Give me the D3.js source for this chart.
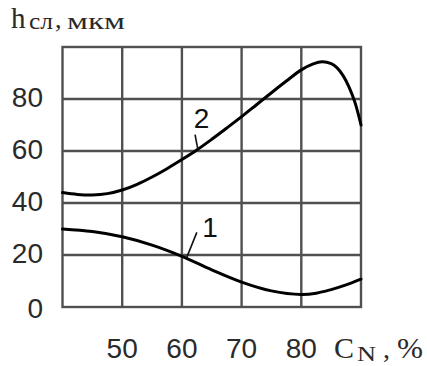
<!DOCTYPE html>
<html>
<head>
<meta charset="utf-8">
<script src="https://cdn.jsdelivr.net/npm/d3@7"></script>
<style>
  html, body { margin: 0; padding: 0; background: #fff; }
  svg { display: block; }
</style>
</head>
<body>
<svg id="chart" width="427" height="366"></svg>
<script>
// Concentration C_N, %
const xTicks = [50, 60, 70, 80];
const yTicks = [0, 20, 40, 60, 80];

// Curve 1: h_сл vs C_N
const curve1X = [40, 45, 50, 55, 60, 65, 70, 75, 80, 82.5, 85, 87.5, 90];
const curve1Y = [30, 29, 27, 23.8, 19.5, 14.3, 9.6, 6.2, 4.8, 5.3, 6.7, 8.5, 10.7];

// Curve 2: h_сл vs C_N
const curve2X = [40, 42.5, 45, 47.5, 50, 52.5, 55, 57.5, 60, 62.5, 65, 67.5, 70, 72.5, 75, 77.5, 80, 82, 83.5, 85, 86, 87, 88, 89, 90];
const curve2Y = [44, 43.3, 43.1, 43.6, 45, 47.2, 50, 53.2, 56.7, 60.4, 64.5, 68.8, 73.2, 77.8, 82.4, 86.9, 91.2, 93.5, 94.3, 93.6, 92, 89, 84.6, 78.6, 70];

const curveNames = ["1", "2"];

const svg = d3.select("#chart");
const plotL = 62.5, plotR = 361, plotT = 47, plotB = 307;

const x = d3.scaleLinear().domain([40, 90]).range([plotL, plotR]);
const y = d3.scaleLinear().domain([0, 100]).range([plotB, plotT]);

const gridColor = "#505050";

// Grid
const grid = svg.append("g").attr("stroke", gridColor).attr("stroke-width", 2.4);
grid.selectAll("line.v").data(xTicks).join("line")
  .attr("class", "v")
  .attr("x1", d => x(d)).attr("x2", d => x(d))
  .attr("y1", plotT).attr("y2", plotB);
grid.selectAll("line.h").data(yTicks.filter(d => d > 0)).join("line")
  .attr("class", "h")
  .attr("x1", plotL).attr("x2", plotR)
  .attr("y1", d => y(d)).attr("y2", d => y(d));

// Frame
svg.append("rect")
  .attr("x", plotL).attr("y", plotT)
  .attr("width", plotR - plotL).attr("height", plotB - plotT)
  .attr("fill", "none").attr("stroke", gridColor).attr("stroke-width", 2.4);

// Curves
const line = d3.line().x(d => x(d[0])).y(d => y(d[1])).curve(d3.curveCatmullRom.alpha(0.5));
const series = [
  d3.zip(curve1X, curve1Y),
  d3.zip(curve2X, curve2Y)
];
svg.append("g").selectAll("path").data(series).join("path")
  .attr("d", line)
  .attr("fill", "none")
  .attr("stroke", "#000")
  .attr("stroke-width", 3)
  .attr("stroke-linecap", "round");

// Tick labels
const sans = "'Liberation Sans', Arial, sans-serif";
const serif = "'Liberation Serif', 'Times New Roman', serif";
const textColor = "#2a2a2a";

svg.append("g").selectAll("text").data(yTicks).join("text")
  .attr("x", 43)
  .attr("y", d => y(d) + (d === 0 ? 11 : 8))
  .attr("text-anchor", "end")
  .attr("font-family", sans)
  .attr("font-size", 28)
  .attr("fill", textColor)
  .text(d => d);

svg.append("g").selectAll("text").data(xTicks).join("text")
  .attr("x", d => x(d))
  .attr("y", 358)
  .attr("text-anchor", "middle")
  .attr("font-family", sans)
  .attr("font-size", 28)
  .attr("fill", textColor)
  .text(d => d);

// Axis titles
function piece(txt, px, py, size, family, len) {
  const t = svg.append("text")
    .attr("x", px).attr("y", py)
    .attr("font-family", family)
    .attr("font-size", size)
    .attr("fill", textColor)
    .text(txt);
  if (len) t.attr("textLength", len).attr("lengthAdjust", "spacingAndGlyphs");
  return t;
}
piece("h", 11, 28, 29, serif);
piece("сл", 29, 29, 24, serif, 24);
piece(",", 55, 28, 26, serif);
piece("мкм", 67, 29, 24, serif, 58);

piece("C", 334, 358, 30, serif);
piece("N", 357, 361, 22, serif, 19);
piece(",", 383, 358, 28, serif);
piece("%", 397, 358, 30, serif, 26);

// Curve labels with leader lines
const labelLayout = [
  { text: curveNames[0], tx: 64.7, ty: 27, from: [62.5, 28.7], to: [60.8, 19] },
  { text: curveNames[1], tx: 63.3, ty: 69, from: [62.2, 66.3], to: [62.7, 60.3] }
];
const ann = svg.append("g");
ann.selectAll("line").data(labelLayout).join("line")
  .attr("x1", d => x(d.from[0])).attr("y1", d => y(d.from[1]))
  .attr("x2", d => x(d.to[0])).attr("y2", d => y(d.to[1]))
  .attr("stroke", "#111").attr("stroke-width", 1.6);
ann.selectAll("text").data(labelLayout).join("text")
  .attr("x", d => x(d.tx)).attr("y", d => y(d.ty))
  .attr("text-anchor", "middle")
  .attr("font-family", sans)
  .attr("font-size", 28)
  .attr("fill", "#111")
  .text(d => d.text);
</script>
</body>
</html>
